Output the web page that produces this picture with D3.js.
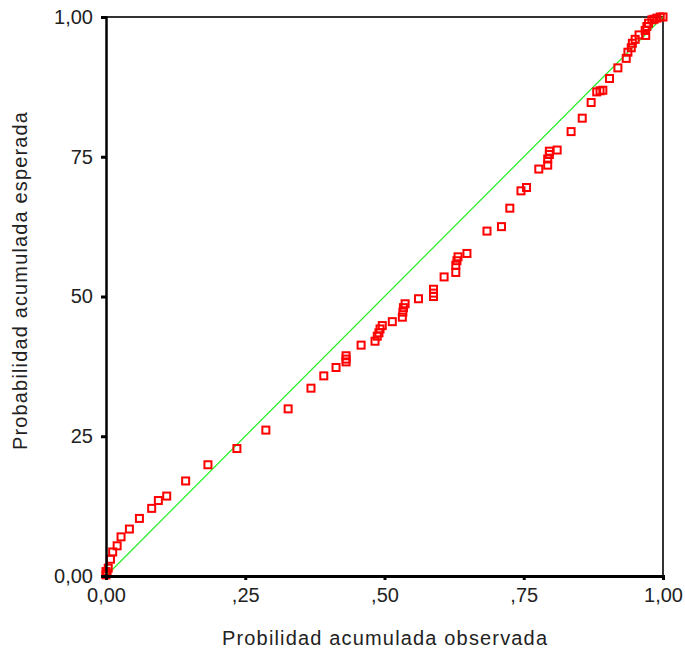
<!DOCTYPE html>
<html><head><meta charset="utf-8">
<script src="https://cdn.jsdelivr.net/npm/d3@7"></script>
<style>body{margin:0;background:#fff;}svg{display:block;font-family:"Liberation Sans",Arial,sans-serif;}</style>
</head><body>
<svg id="chart" width="685" height="654"></svg>
<script>
const observed = [0.000,0.002,0.000,0.004,0.008,0.012,0.020,0.027,0.042,0.060,0.082,0.094,0.109,0.143,0.183,0.235,0.287,0.327,0.368,0.391,0.413,0.431,0.431,0.431,0.458,0.483,0.487,0.490,0.492,0.496,0.514,0.532,0.533,0.534,0.537,0.561,0.588,0.588,0.588,0.607,0.628,0.628,0.630,0.632,0.648,0.684,0.710,0.725,0.745,0.755,0.777,0.793,0.793,0.796,0.796,0.810,0.835,0.855,0.871,0.881,0.887,0.892,0.904,0.919,0.934,0.937,0.943,0.945,0.950,0.957,0.969,0.968,0.971,0.974,0.980,0.984,0.989,0.995,1.000];
const expected = [0.002,0.005,0.008,0.014,0.030,0.043,0.054,0.070,0.084,0.103,0.121,0.135,0.143,0.170,0.199,0.228,0.261,0.299,0.336,0.358,0.373,0.383,0.388,0.394,0.413,0.420,0.429,0.435,0.442,0.448,0.455,0.463,0.472,0.480,0.487,0.496,0.500,0.506,0.513,0.535,0.543,0.556,0.564,0.571,0.577,0.617,0.625,0.658,0.689,0.695,0.728,0.735,0.746,0.754,0.760,0.762,0.795,0.819,0.847,0.866,0.868,0.869,0.890,0.909,0.926,0.937,0.945,0.953,0.960,0.968,0.967,0.976,0.983,0.989,0.995,0.996,0.998,1.000,1.000];
const xTicks = [0, 0.25, 0.5, 0.75, 1];
const xTickLabels = ["0,00", ",25", ",50", ",75", "1,00"];
const yTicks = [0, 0.25, 0.5, 0.75, 1];
const yTickLabels = ["0,00", "25", "50", "75", "1,00"];
const xTitle = "Probilidad acumulada observada";
const yTitle = "Probabilidad acumulada esperada";

const svg = d3.select("#chart");
const L = 106, R = 663, T = 17, B = 576;
const x = d3.scaleLinear().domain([0, 1]).range([L, R]);
const y = d3.scaleLinear().domain([0, 1]).range([B, T]);

// frame top/right
svg.append("line").attr("x1", L).attr("x2", R).attr("y1", T).attr("y2", T).attr("stroke", "#333").attr("stroke-width", 2);
svg.append("line").attr("x1", R).attr("x2", R).attr("y1", T).attr("y2", B).attr("stroke", "#333").attr("stroke-width", 2);

// diagonal reference
svg.append("line").attr("x1", x(0)).attr("y1", y(0)).attr("x2", x(1)).attr("y2", y(1))
  .attr("stroke", "#22ee22").attr("stroke-width", 1.2);

// points
svg.append("g").selectAll("rect").data(observed.map((d, i) => [d, expected[i]])).join("rect")
  .attr("x", d => x(d[0]) - 3.5).attr("y", d => y(d[1]) - 3.5)
  .attr("width", 7).attr("height", 7)
  .attr("fill", "none").attr("stroke", "#ff0000").attr("stroke-width", 2);

// axes
const xAxis = d3.axisBottom(x).tickValues(xTicks).tickFormat((d, i) => xTickLabels[i]).tickSize(4).tickPadding(8);
const gx = svg.append("g").attr("transform", `translate(0,${B})`).call(xAxis);
gx.select(".domain").attr("stroke", "#000").attr("stroke-width", 3);
gx.selectAll(".tick line").attr("stroke", "#000").attr("stroke-width", 3);
gx.selectAll("text").attr("font-size", 20).attr("fill", "#222").attr("font-family", "Liberation Sans, Arial, sans-serif");

const yAxis = d3.axisLeft(y).tickValues(yTicks).tickFormat((d, i) => yTickLabels[i]).tickSize(5).tickPadding(8);
const gy = svg.append("g").attr("transform", `translate(${L},0)`).call(yAxis);
gy.select(".domain").attr("stroke", "#000").attr("stroke-width", 2.5);
gy.selectAll(".tick line").attr("stroke", "#000").attr("stroke-width", 3);
gy.selectAll("text").attr("font-size", 20).attr("fill", "#222").attr("font-family", "Liberation Sans, Arial, sans-serif");

svg.append("text").attr("x", 384.5).attr("y", 645).attr("text-anchor", "middle")
  .attr("font-size", 20).attr("fill", "#222")
  .attr("textLength", 325).attr("lengthAdjust", "spacing").text(xTitle);
svg.append("text").attr("transform", "translate(27,281) rotate(-90)").attr("text-anchor", "middle")
  .attr("font-size", 20).attr("fill", "#222")
  .attr("textLength", 338).attr("lengthAdjust", "spacing").text(yTitle);
</script>
</body></html>
